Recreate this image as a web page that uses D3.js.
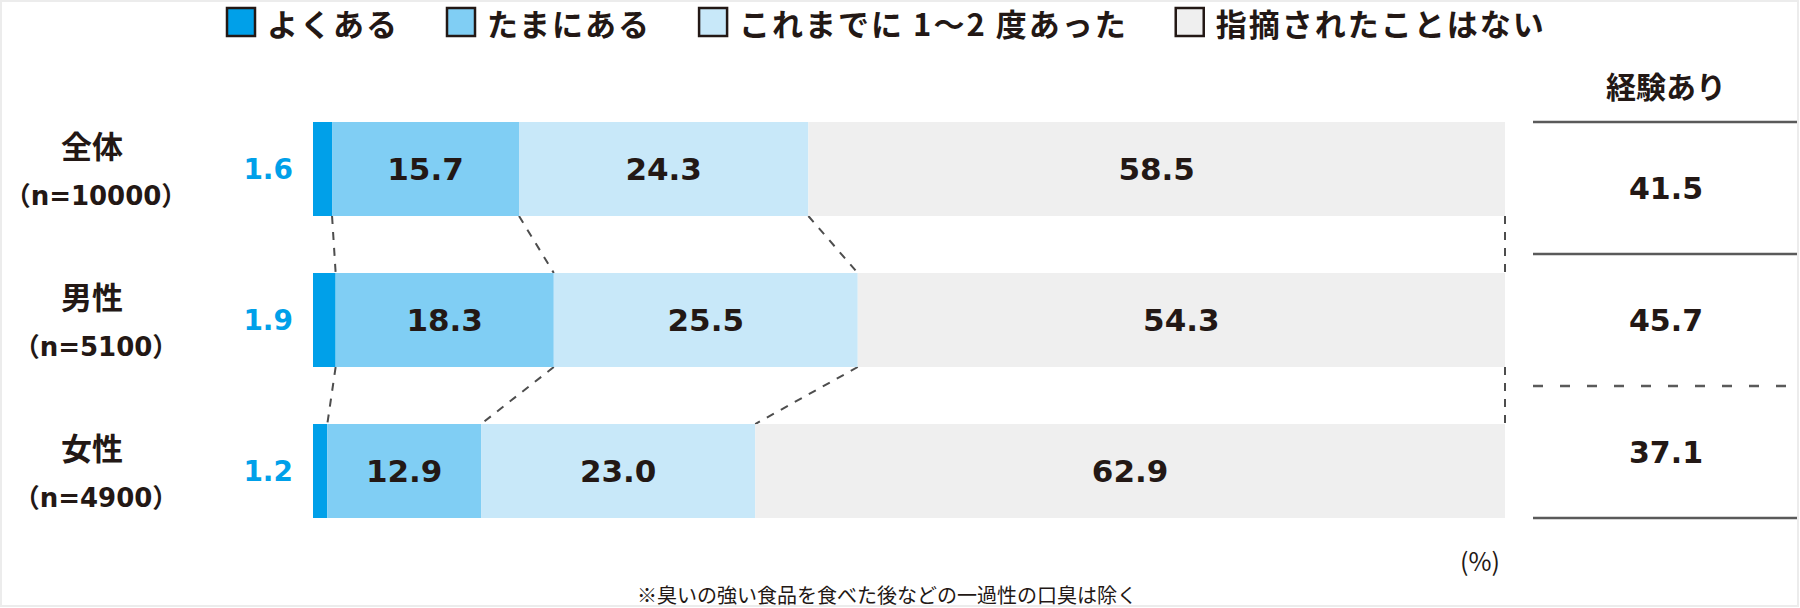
<!DOCTYPE html>
<html>
<head>
<meta charset="utf-8">
<script src="https://cdnjs.cloudflare.com/ajax/libs/d3/7.8.5/d3.min.js"></script>
<style>
body{margin:0;background:#fff;}
svg{display:block;}
</style>
</head>
<body>
<svg id="chart" width="1800" height="608"></svg>
<script>
var categories = ["全体", "男性", "女性"];
var sampleSizes = ["（n=10000）", "（n=5100）", "（n=4900）"];
var seriesNames = ["よくある", "たまにある", "これまでに 1～2 度あった", "指摘されたことはない"];
var often = [1.6, 1.9, 1.2];
var sometimes = [15.7, 18.3, 12.9];
var onceOrTwice = [24.3, 25.5, 23.0];
var never = [58.5, 54.3, 62.9];
var experienced = [41.5, 45.7, 37.1];
var columnTitle = "経験あり";
var unitLabel = "(%)";
var footnote = "※臭いの強い食品を食べた後などの一過性の口臭は除く";

var seriesColors = ["#00a0e9", "#80cef4", "#c8e8f9", "#efefef"];
var ink = "#231815";
var numFont = "'DejaVu Sans','Noto Sans CJK JP',sans-serif";
var jpFont = "'Noto Sans CJK JP',sans-serif";

var svg = d3.select("svg#chart");

// faint frame round the picture
svg.append("rect")
    .attr("x",1).attr("y",1).attr("width",1797).attr("height",605)
    .attr("fill","none").attr("stroke","#ececec").attr("stroke-width",2);

var rows = categories.map(function(c, i){
    var vals = [often[i], sometimes[i], onceOrTwice[i], never[i]];
    var total = d3.sum(vals);
    var cum = [0];
    vals.forEach(function(v){ cum.push(cum[cum.length-1] + v / total * 100); });
    return {cat: c, n: sampleSizes[i], vals: vals, cum: cum, exp: experienced[i]};
});

var x = d3.scaleLinear().domain([0, 100]).range([313, 1505]);
var y = d3.scaleBand().domain(categories).range([122, 518]).paddingInner(0.3775).paddingOuter(0);
var cell = d3.scaleBand().domain(categories).range([122, 518]);

// text helper: centred vertically on y
var label = function(g, size, family, weight){
    return g.append("text")
        .attr("dy", "0.35em")
        .style("font-family", family)
        .style("font-weight", weight)
        .style("font-size", size + "px")
        .attr("fill", ink);
};

// legend
var legend = svg.append("g");
var lx = 227;
seriesNames.forEach(function(name, i){
    legend.append("rect")
        .attr("x", lx).attr("y", 8).attr("width", 28).attr("height", 28)
        .attr("fill", seriesColors[i]).attr("stroke", ink).attr("stroke-width", 2.5);
    var t = label(legend, 31, jpFont, 700)
        .attr("x", lx + 40).attr("y", 25.5)
        .style("letter-spacing", "2px")
        .text(name);
    lx = lx + 40 + t.node().getComputedTextLength() + 48;
});

// connectors between bars
var conn = svg.append("g");
d3.pairs(rows).forEach(function(p){
    for (var k = 1; k <= 4; k++) {
        conn.append("line")
            .attr("x1", x(p[0].cum[k])).attr("y1", y(p[0].cat) + y.bandwidth())
            .attr("x2", x(p[1].cum[k])).attr("y2", y(p[1].cat))
            .attr("stroke", "#4d4d4d").attr("stroke-width", 2)
            .attr("stroke-dasharray", "8,8");
    }
});

// bars
var bars = svg.append("g").selectAll("g").data(rows).enter().append("g");
bars.selectAll("rect")
    .data(function(d){ return d.vals.map(function(v, k){ return {k: k, x0: d.cum[k], x1: d.cum[k+1], cat: d.cat}; }); })
    .enter().append("rect")
    .attr("x", function(d){ return x(d.x0); })
    .attr("y", function(d){ return y(d.cat); })
    .attr("width", function(d){ return x(d.x1) - x(d.x0); })
    .attr("height", y.bandwidth())
    .attr("fill", function(d){ return seriesColors[d.k]; });

bars.each(function(d){
    var g = d3.select(this);
    d.vals.forEach(function(v, k){
        if (k == 0) {
            // small first segment label, left of bar
            label(g, 28, numFont, 700)
                .attr("x", x(0) - 20).attr("y", y(d.cat) + y.bandwidth() / 2)
                .attr("text-anchor", "end").attr("fill", seriesColors[0])
                .text(v.toFixed(1));
        } else {
            label(g, 31, numFont, 700)
                .attr("x", (x(d.cum[k]) + x(d.cum[k+1])) / 2).attr("y", y(d.cat) + y.bandwidth() / 2)
                .attr("text-anchor", "middle")
                .text(v.toFixed(1));
        }
    });
    // category labels
    label(g, 31, jpFont, 700)
        .attr("x", 92).attr("y", y(d.cat) + y.bandwidth() / 2 - 22)
        .attr("text-anchor", "middle")
        .text(d.cat);
    label(g, 26, numFont, 700)
        .attr("x", 96).attr("y", y(d.cat) + y.bandwidth() / 2 + 27)
        .attr("text-anchor", "middle")
        .text(d.n);
});

// right column: 経験あり
var col = svg.append("g");
label(col, 30, jpFont, 700)
    .attr("x", 1666).attr("y", 87)
    .attr("text-anchor", "middle")
    .text(columnTitle);
var ruleY = categories.map(function(c){ return cell(c); }).concat([cell.range()[1]]);
ruleY.forEach(function(yy, i){
    col.append("line")
        .attr("x1", 1533).attr("x2", 1797).attr("y1", yy).attr("y2", yy)
        .attr("stroke", "#5a5a5a").attr("stroke-width", 2.5)
        .attr("stroke-dasharray", i == 2 ? "10,17" : null);
});
rows.forEach(function(d){
    label(col, 30, numFont, 700)
        .attr("x", 1666).attr("y", cell(d.cat) + cell.bandwidth() / 2)
        .attr("text-anchor", "middle")
        .text(d.exp.toFixed(1));
});

// unit and footnote
label(svg, 25, jpFont, 400)
    .attr("x", 1500).attr("y", 562)
    .attr("text-anchor", "end")
    .text(unitLabel);
label(svg, 20, jpFont, 400)
    .attr("x", 887).attr("y", 596)
    .attr("text-anchor", "middle")
    .text(footnote);
</script>
</body>
</html>
